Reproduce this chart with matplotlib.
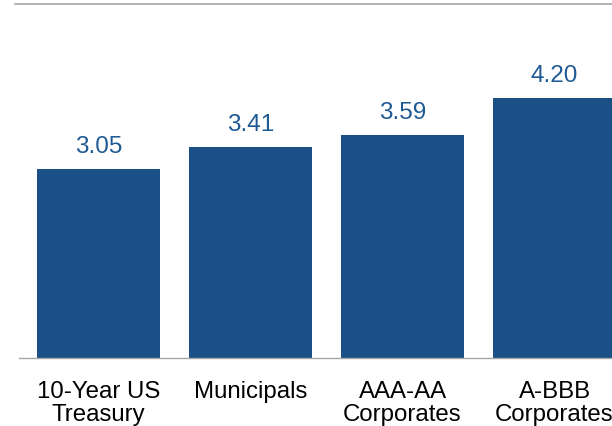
import matplotlib
matplotlib.use("Agg")
import matplotlib.pyplot as plt
from matplotlib.lines import Line2D

# data
categories = ["10-Year US\nTreasury", "Municipals", "AAA-AA\nCorporates", "A-BBB\nCorporates"]
values = [3.05, 3.41, 3.59, 4.20]
value_labels = ["3.05", "3.41", "3.59", "4.20"]

BAR_COLOR = "#1a5086"
TEXT_BLUE = "#1f5a94"
GRID_GRAY = "#a6a6a6"

plt.rcParams['font.family'] = ['Liberation Sans', 'DejaVu Sans']

fig = plt.figure(figsize=(6.12, 4.27), dpi=100)
ax = fig.add_axes([19/612, 68/427, 1 - 19/612, (359 - 5)/427])

x = list(range(len(values)))
bars = ax.bar(x, values, width=0.81, color=BAR_COLOR, zorder=2)

for xi, v, lab in zip(x, values, value_labels):
    ax.annotate(lab, (xi, v), xytext=(0, 12.2), textcoords="offset points",
                ha="center", va="baseline", fontsize=17.5, color=TEXT_BLUE)

ax.set_xlim(-0.523, 3.378)
ax.set_ylim(0, 5.71)
ax.set_xticks(x)
ax.set_xticklabels(categories, fontsize=17.3, linespacing=1.05)
ax.set_yticks([])
ax.tick_params(axis="x", length=0, pad=16)

for side in ["top", "left", "right"]:
    ax.spines[side].set_visible(False)
ax.spines["bottom"].set_color(GRID_GRAY)
ax.spines["bottom"].set_linewidth(1.0)

# top rule across the chart
fig.add_artist(Line2D([15/612, 1.0], [1 - 5/427, 1 - 5/427], transform=fig.transFigure,
                      color=GRID_GRAY, lw=1.2))

fig.savefig("out.png", dpi=100)
